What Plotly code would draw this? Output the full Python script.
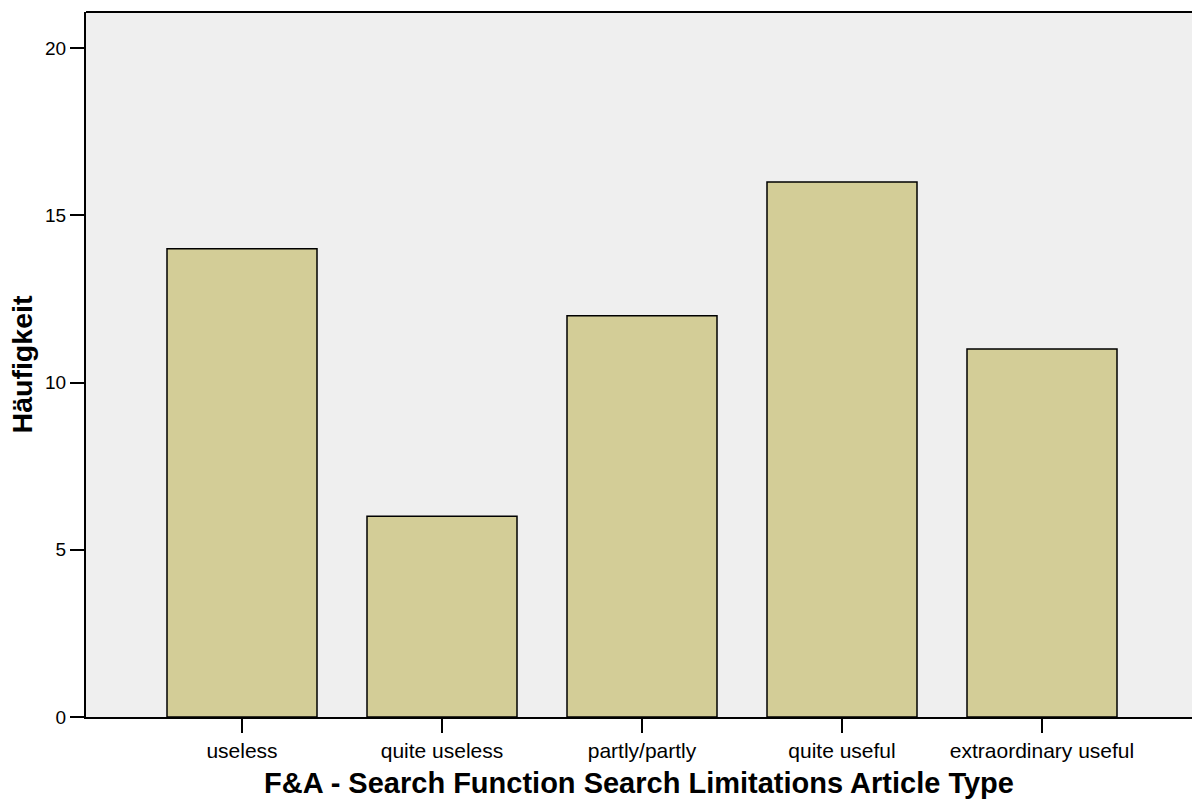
import plotly.graph_objects as go

categories = ["useless", "quite useless", "partly/partly", "quite useful", "extraordinary useful"]
counts = [14, 6, 12, 16, 11]
y_ticks = [0, 5, 10, 15, 20]

fig = go.Figure()
fig.add_trace(go.Bar(
    x=list(range(len(categories))), y=counts, width=0.75,
    marker=dict(color="#d3cd97", line=dict(color="black", width=1.5)),
    hoverinfo="skip",
))
fig.update_layout(
    width=1192, height=803,
    margin=dict(l=86, r=0, t=12, b=86),
    paper_bgcolor="white", plot_bgcolor="#efefef",
    font=dict(family="Liberation Sans, Arial", size=19, color="black"),
    showlegend=False,
    xaxis=dict(
        range=[-0.78, 4.75], tickmode="array",
        tickvals=list(range(len(categories))), ticktext=categories,
        tickfont=dict(size=21),
        ticks="outside", ticklen=14, tickwidth=2, tickcolor="black",
        showline=True, linecolor="black", linewidth=2, showgrid=False, zeroline=False,
        title=dict(text="<b>F&A - Search Function Search Limitations Article Type</b>",
                   font=dict(size=29), standoff=11),
    ),
    yaxis=dict(
        range=[0, 21.08], tickmode="array", tickvals=y_ticks,
        tickfont=dict(size=19),
        ticks="outside", ticklen=14, tickwidth=2, tickcolor="black",
        showline=True, linecolor="black", linewidth=2, showgrid=False, zeroline=False,
        title=dict(text="<b>Häufigkeit</b>", font=dict(size=28.5), standoff=4),
    ),
    shapes=[dict(type="line", xref="paper", yref="paper", x0=0, x1=1, y0=1, y1=1,
                 line=dict(color="black", width=2))],
)
fig.write_html("out.html", config={"displayModeBar": False},
               post_script="document.body.style.margin='0';document.body.style.overflow='hidden';")
